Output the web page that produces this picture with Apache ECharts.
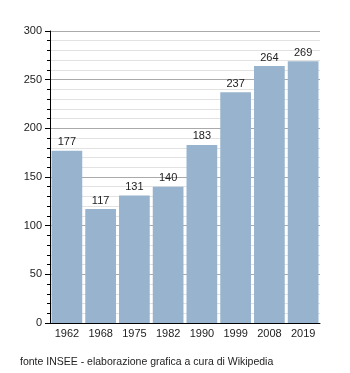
<!DOCTYPE html>
<html>
<head>
<meta charset="utf-8">
<script src="https://cdn.jsdelivr.net/npm/echarts@6/dist/echarts.min.js"></script>
<style>
html,body{margin:0;padding:0;background:#fff;}
#chart{width:350px;height:373px;}
</style>
</head>
<body>
<div id="chart"></div>
<script>
// Abitanti censiti per anno
const years = ['1962', '1968', '1975', '1982', '1990', '1999', '2008', '2019'];
const population = [177, 117, 131, 140, 183, 237, 264, 269];
const sourceNote = 'fonte INSEE - elaborazione grafica a cura di Wikipedia';

const chart = echarts.init(document.getElementById('chart'), null, { renderer: 'canvas' });
chart.setOption({
  animation: false,
  textStyle: { fontFamily: 'Liberation Sans, Arial, sans-serif' },
  grid: { left: 50, right: 30, top: 31, bottom: 50 },
  graphic: [{
    type: 'text', left: 20, top: 357,
    style: { text: sourceNote, fontSize: 10.5, fill: '#222', fontFamily: 'Liberation Sans, Arial, sans-serif' }
  }],
  xAxis: {
    type: 'category',
    data: years,
    axisLine: { lineStyle: { color: '#000', width: 1 } },
    axisTick: { show: false },
    axisLabel: { color: '#222', fontSize: 11, margin: 5 }
  },
  yAxis: {
    type: 'value',
    min: 0, max: 300, interval: 50,
    axisLine: { show: true, lineStyle: { color: '#000' } },
    axisTick: { show: true, length: 5, lineStyle: { color: '#000' } },
    minorTick: { show: true, splitNumber: 5, length: 3, lineStyle: { color: '#000' } },
    splitLine: { show: true, lineStyle: { color: '#aaa' } },
    minorSplitLine: { show: true, lineStyle: { color: '#e2e2e2' } },
    axisLabel: { color: '#222', fontSize: 11, margin: 8 }
  },
  series: [{
    type: 'bar',
    data: population,
    barCategoryGap: '9%',
    itemStyle: { color: '#98b3cd' },
    label: { show: true, position: 'top', distance: 3, color: '#222', fontSize: 11 }
  }]
});
</script>
</body>
</html>
